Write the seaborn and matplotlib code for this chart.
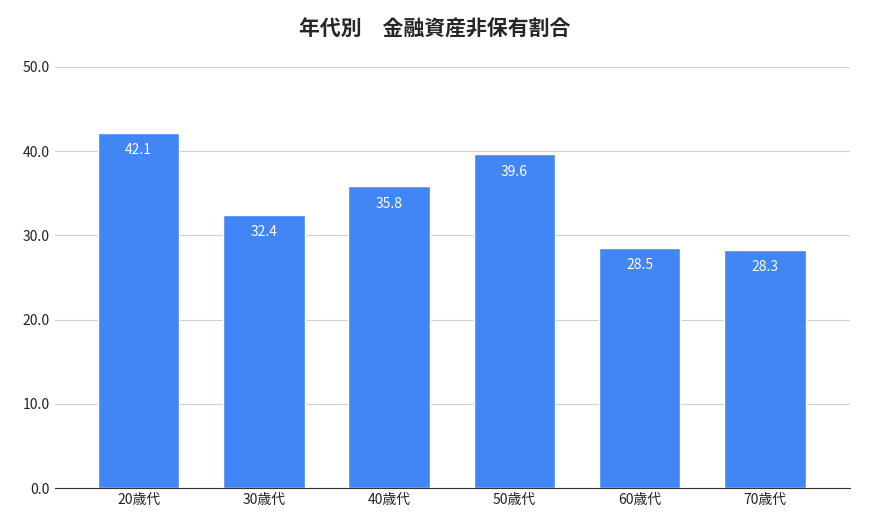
import matplotlib
matplotlib.use("Agg")
import matplotlib.pyplot as plt
import seaborn as sns
import pandas as pd

categories = ["20歳代", "30歳代", "40歳代", "50歳代", "60歳代", "70歳代"]
values = [42.1, 32.4, 35.8, 39.6, 28.5, 28.3]
yticks = [0, 10, 20, 30, 40, 50]

sns.set_style("white")
plt.rcParams['font.family'] = ['Noto Sans CJK JP', 'DejaVu Sans']

df = pd.DataFrame({"cat": categories, "val": values})
fig = plt.figure(figsize=(8.7, 5.3), dpi=100)
ax = fig.add_axes([0.063, 0.079, 0.914, 0.795])
sns.barplot(data=df, x="cat", y="val", color="#4285F4", saturation=1, width=0.65, ax=ax, zorder=3)
for p, v in zip(ax.patches, values):
    ax.text(p.get_x() + p.get_width() / 2, v - 1.2, f"{v:.1f}", ha="center", va="top",
            color="white", fontsize=10)
ax.set_xlim(-0.67, 5.68)
ax.set_ylim(0, 50)
ax.set_yticks(yticks)
ax.set_yticklabels([f"{t:.1f}" for t in yticks], fontsize=10, color="#222222")
ax.tick_params(axis="x", labelsize=10, colors="#222222", length=0)
ax.tick_params(axis="y", length=0)
ax.yaxis.grid(True, color="#d0d0d0", linewidth=0.8, zorder=0)
ax.set_xlabel("")
ax.set_ylabel("")
for s in ["top", "right", "left"]:
    ax.spines[s].set_visible(False)
ax.spines["bottom"].set_color("#333333")
fig.suptitle("年代別　金融資産非保有割合", fontsize=15, fontweight="bold", y=0.965, x=0.5)
fig.savefig("out.png", dpi=100)
